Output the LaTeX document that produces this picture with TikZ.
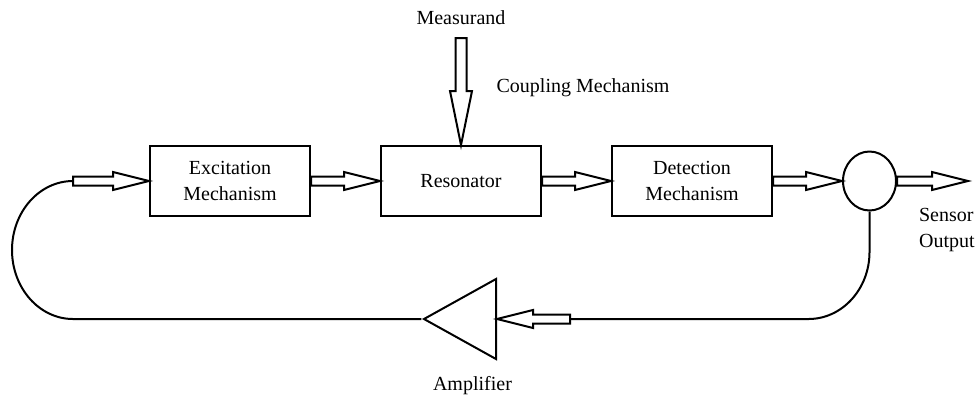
\documentclass[tikz,border=0pt]{standalone}
\usepackage{fontspec}
\setmainfont{Liberation Serif}
\usetikzlibrary{positioning, calc, shapes.geometric}

% half widths of the hollow block arrows
\newcommand{\shaftw}{2.25pt}
\newcommand{\headw}{4.5pt}
% hollow block arrow: [head length]{from}{to}
\newcommand{\hollowarrow}[3][18pt]{%
    \coordinate (ha-s) at (#2);
    \coordinate (ha-t) at (#3);
    \coordinate (ha-b) at ($(ha-t)!#1!(ha-s)$);
    \draw[hollow] ($(ha-s)!\shaftw!90:(ha-t)$) -- ($(ha-b)!\shaftw!-90:(ha-s)$)
        -- ($(ha-b)!\headw!-90:(ha-s)$) -- (ha-t) -- ($(ha-b)!\headw!90:(ha-s)$)
        -- ($(ha-b)!\shaftw!90:(ha-s)$) -- ($(ha-s)!\shaftw!-90:(ha-t)$) -- cycle;
}

\begin{document}
\begin{tikzpicture}[
    x=0.5pt, y=0.5pt,
    font=\fontsize{10}{13}\selectfont,
    block/.style = {rectangle, draw, line width=1pt, minimum width=80pt, minimum height=35pt, align=center},
    summer/.style = {ellipse, draw, line width=1pt, minimum width=26.5pt, minimum height=29.5pt, inner sep=0pt},
    amplifier/.style = {isosceles triangle, isosceles triangle stretches, shape border rotate=180, draw, line width=1pt, minimum width=40pt, minimum height=36pt, inner sep=0pt},
    hollow/.style = {draw, line width=1pt, fill=white, line join=miter},
    wire/.style = {draw, line width=1pt}
]
    \useasboundingbox (0,0) rectangle (977,-403);

    % Nodes
    \node (exc) [block] at (230,-181) {Excitation\\Mechanism};
    \node (res) [block, right=34.5pt of exc] {Resonator};
    \node (det) [block, right=34.5pt of res] {Detection\\Mechanism};
    \node (sum) [summer, right=34.5pt of det] {};
    \node (amp) [amplifier, anchor=east] at (497,-319) {};

    % Free ends
    \coordinate [above=53.5pt of res] (mtail);
    \coordinate [left=38pt of exc] (in);
    \coordinate [right=35.5pt of sum] (out);
    \coordinate (fb) at (570,-319);

    % Labels
    \node (meas) [above=3pt of mtail] {Measurand};
    \node (coupling) at (583,-88) {Coupling Mechanism};
    \node (sensor) [anchor=west, align=left] at (912,-230) {Sensor\\Output};
    \node (amplabel) [below=11pt of amp] {Amplifier};

    % Connections
    {\renewcommand{\shaftw}{2.75pt}\renewcommand{\headw}{5.5pt}
     \hollowarrow[27pt]{mtail}{res.north}}
    \hollowarrow{in}{exc.west}
    \hollowarrow{exc.east}{res.west}
    \hollowarrow{res.east}{det.west}
    \hollowarrow{det.east}{sum.west}
    \hollowarrow{sum.east}{out}

    \path [wire] (sum.south) -- (sum.south |- 0,-252)
        arc[start angle=0, end angle=-90, x radius=61, y radius=67] -- (fb);
    \hollowarrow{fb}{amp.east}
    \path [wire] (amp.apex) -- (in |- amp.apex)
        arc[start angle=-90, end angle=-270, x radius=61, y radius=69] -- (in);

\end{tikzpicture}
\end{document}
